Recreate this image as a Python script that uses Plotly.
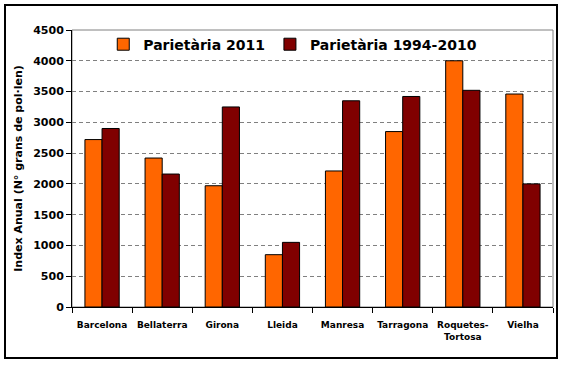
import plotly.graph_objects as go

categories = ["Barcelona", "Bellaterra", "Girona", "Lleida", "Manresa", "Tarragona", "Roquetes-<br>Tortosa", "Vielha"]
series_2011 = [2720, 2420, 1970, 850, 2210, 2850, 4000, 3460]
series_1994_2010 = [2900, 2160, 3250, 1050, 3350, 3420, 3520, 2000]
y_ticks = [0, 500, 1000, 1500, 2000, 2500, 3000, 3500, 4000, 4500]

FONT = "DejaVu Sans"

fig = go.Figure()
fig.add_trace(go.Bar(x=categories, y=series_2011, name="Parietària 2011",
                     marker=dict(color="#FF6600", line=dict(color="black", width=1))))
fig.add_trace(go.Bar(x=categories, y=series_1994_2010, name="Parietària 1994-2010",
                     marker=dict(color="#800000", line=dict(color="black", width=1))))

L, R, T, B = 72, 15, 30, 58
W, H = 568, 365
pw = W - L - R
ph = H - T - B

def px2x(px):
    return (px - L) / pw

def py2y(py):
    return (H - B - py) / ph

fig.update_layout(
    width=W, height=H,
    margin=dict(l=L, r=R, t=T, b=B, autoexpand=False),
    paper_bgcolor="white", plot_bgcolor="white",
    barmode="group", bargap=0.43, bargroupgap=0,
    font=dict(family=FONT, color="black"),
    showlegend=True,
    legend=dict(orientation="h", x=0.065, y=1.005, xanchor="left", yanchor="top",
                font=dict(size=14, family=FONT, weight="bold"), bgcolor="rgba(0,0,0,0)",
                itemwidth=30, tracegroupgap=0),
    xaxis=dict(showline=True, linecolor="black", linewidth=1, automargin=False,
               ticks="outside", tickson="boundaries", ticklen=5, tickcolor="black",
               tickangle=0, ticklabelstandoff=9,
               tickfont=dict(size=9, family=FONT, weight="bold"), showgrid=False),
    yaxis=dict(range=[0, 4500], tickvals=y_ticks, showline=True, linecolor="black", linewidth=1,
               automargin=False,
               ticks="outside", ticklen=5, tickcolor="black",
               tickfont=dict(size=11, family=FONT, weight="bold"),
               showgrid=True, gridcolor="#808080", griddash="4px,3px", gridwidth=1,
               title=dict(text="Index Anual (N° grans de pol·len)",
                          font=dict(size=11, family=FONT, weight="bold"),
                          standoff=8),
               zeroline=False),
    shapes=[
        dict(type="rect", xref="paper", yref="paper", x0=0, x1=1, y0=0, y1=1,
             line=dict(color="#808080", width=1), layer="below"),
        dict(type="rect", xref="paper", yref="paper", x0=px2x(5), x1=px2x(557), y0=py2y(358), y1=py2y(5),
             line=dict(color="black", width=2), layer="below"),
    ],
)

fig.write_html("out.html", config={"displayModeBar": False},
               post_script="document.body.style.margin='0px';document.body.style.overflow='hidden';")
